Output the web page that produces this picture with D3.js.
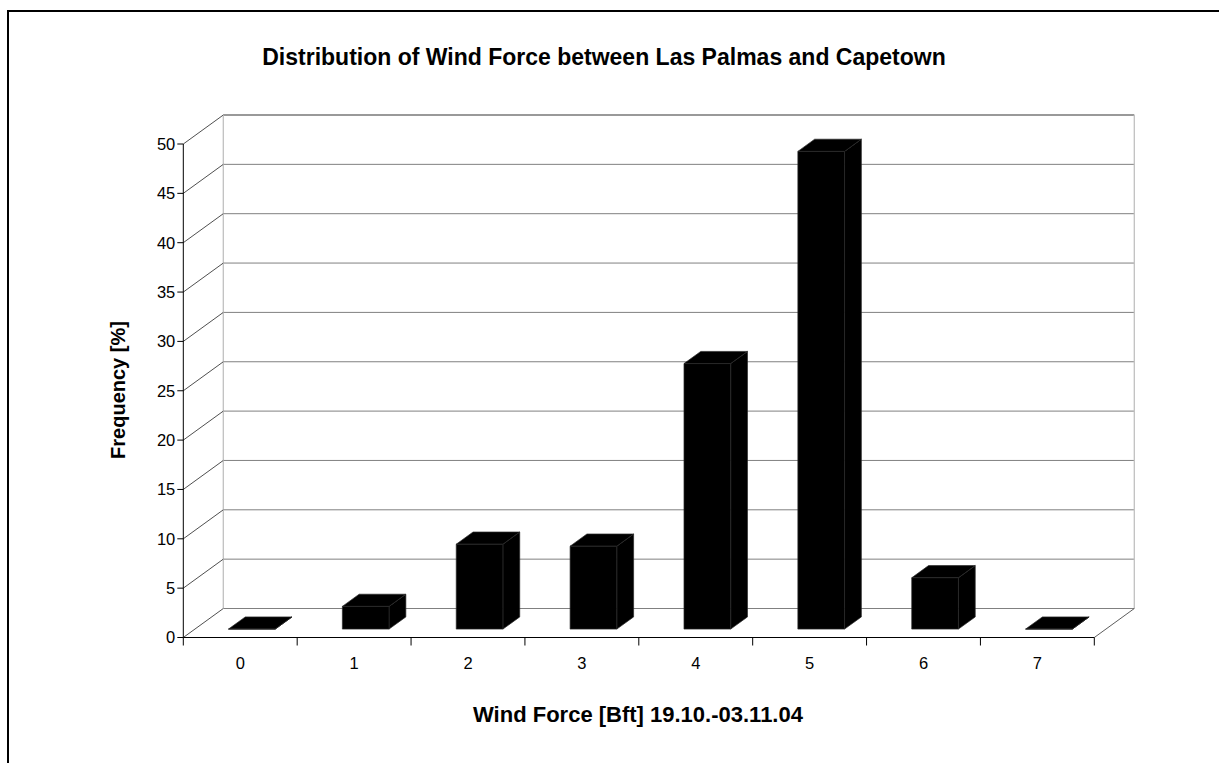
<!DOCTYPE html>
<html>
<head>
<meta charset="utf-8">
<script src="https://cdn.jsdelivr.net/npm/d3@7"></script>
<style>
  html, body { margin: 0; padding: 0; background: #fff; }
  svg { display: block; font-family: "Liberation Sans", Arial, sans-serif; }
</style>
</head>
<body>
<svg id="chart" width="1219" height="763"></svg>
<script>
// Wind force classes (Beaufort) and their relative frequency in percent
const categories = ["0", "1", "2", "3", "4", "5", "6", "7"];
const frequency = [0, 2.3, 8.6, 8.4, 26.9, 48.4, 5.2, 0];
const yTicks = [0, 5, 10, 15, 20, 25, 30, 35, 40, 45, 50];

const titleText = "Distribution of Wind Force between Las Palmas and Capetown";
const xTitleText = "Wind Force [Bft] 19.10.-03.11.04";
const yTitleText = "Frequency [%]";

const svg = d3.select("#chart");

// front plane of the 3-D plot box
const x0 = 183.3, x1 = 1094.3;
const depthX = 40, depthY = -29;   // offset of the back wall

const x = d3.scaleBand().domain(categories).range([x0, x1])
  .paddingInner(0.59).paddingOuter(0.295);
const xStep = d3.scaleBand().domain(categories).range([x0, x1]);
const y = d3.scaleLinear().domain([0, 50]).range([637.5, 144]);

// project a point at depth d (0 = front, 1 = back)
const P = (px, py, d) => [px + depthX * d, py + depthY * d];
const line = d3.line();

// outer chart frame
svg.append("rect").attr("x", 8).attr("y", 11).attr("width", 1230).attr("height", 780)
  .attr("fill", "none").attr("stroke", "#000").attr("stroke-width", 2);

const walls = svg.append("g");

// back wall gridlines
yTicks.forEach((t, i) => {
  const a = P(x0, y(t), 1), b = P(x1, y(t), 1);
  walls.append("path").attr("d", line([a, b]))
    .attr("stroke", i === yTicks.length - 1 ? "#777" : "#808080")
    .attr("stroke-width", t === 50 ? 1.3 : 1).attr("fill", "none");
});
// back wall vertical edges
[x0, x1].forEach(px => {
  walls.append("path").attr("d", line([P(px, y(0), 1), P(px, y(50), 1)]))
    .attr("stroke", "#c0c0c0").attr("stroke-width", 1.3);
});
// side wall diagonals
yTicks.forEach(t => {
  walls.append("path").attr("d", line([P(x0, y(t), 0), P(x0, y(t), 1)]))
    .attr("stroke", "#222").attr("stroke-width", 0.8);
});
// floor edges
walls.append("path").attr("d", line([P(x1, y(0), 0), P(x1, y(0), 1)]))
  .attr("stroke", "#333").attr("stroke-width", 0.8);

// axes
const ax = svg.append("g");
ax.append("path").attr("d", line([[x0, y(0)], [x0, y(50)]])).attr("stroke", "#000").attr("stroke-width", 1);
ax.append("path").attr("d", line([[x0, y(0)], [x1, y(0)]])).attr("stroke", "#000").attr("stroke-width", 1);
yTicks.forEach(t => {
  ax.append("path").attr("d", line([[x0 - 6, y(t)], [x0, y(t)]])).attr("stroke", "#000");
  ax.append("text").attr("x", x0 - 8).attr("y", y(t)).attr("dy", "0.36em")
    .attr("text-anchor", "end").attr("font-size", 16.5).text(t);
});
categories.concat(["end"]).forEach((c, i) => {
  const px = x0 + i * xStep.step();
  ax.append("path").attr("d", line([[px, y(0)], [px, y(0) + 8]])).attr("stroke", "#000");
});
categories.forEach(c => {
  ax.append("text").attr("x", xStep(c) + xStep.bandwidth() / 2).attr("y", 669)
    .attr("text-anchor", "middle").attr("font-size", 16.5).text(c);
});

// 3-D columns
const dFront = 0.29, dBack = 0.71;
const bars = svg.append("g");
categories.forEach((c, i) => {
  const v = frequency[i];
  const l = x(c), r = x(c) + x.bandwidth();
  const yb = y(0), yt = y(v);
  const front = [P(l, yb, dFront), P(r, yb, dFront), P(r, yt, dFront), P(l, yt, dFront)];
  const top = [P(l, yt, dFront), P(r, yt, dFront), P(r, yt, dBack), P(l, yt, dBack)];
  const side = [P(r, yb, dFront), P(r, yb, dBack), P(r, yt, dBack), P(r, yt, dFront)];
  [side, top, front].forEach(face => {
    bars.append("path").attr("d", line(face) + "Z")
      .attr("fill", "#000").attr("stroke", "#2a2a2a").attr("stroke-width", 0.7)
      .attr("stroke-linejoin", "round");
  });
});

// titles
svg.append("text").attr("x", 604).attr("y", 65).attr("text-anchor", "middle")
  .attr("font-size", 23).attr("font-weight", "bold").text(titleText);
svg.append("text").attr("x", 638).attr("y", 722).attr("text-anchor", "middle")
  .attr("font-size", 22).attr("font-weight", "bold").text(xTitleText);
svg.append("text").attr("transform", "translate(125,390) rotate(-90)")
  .attr("text-anchor", "middle").attr("font-size", 20).attr("font-weight", "bold").text(yTitleText);
</script>
</body>
</html>
